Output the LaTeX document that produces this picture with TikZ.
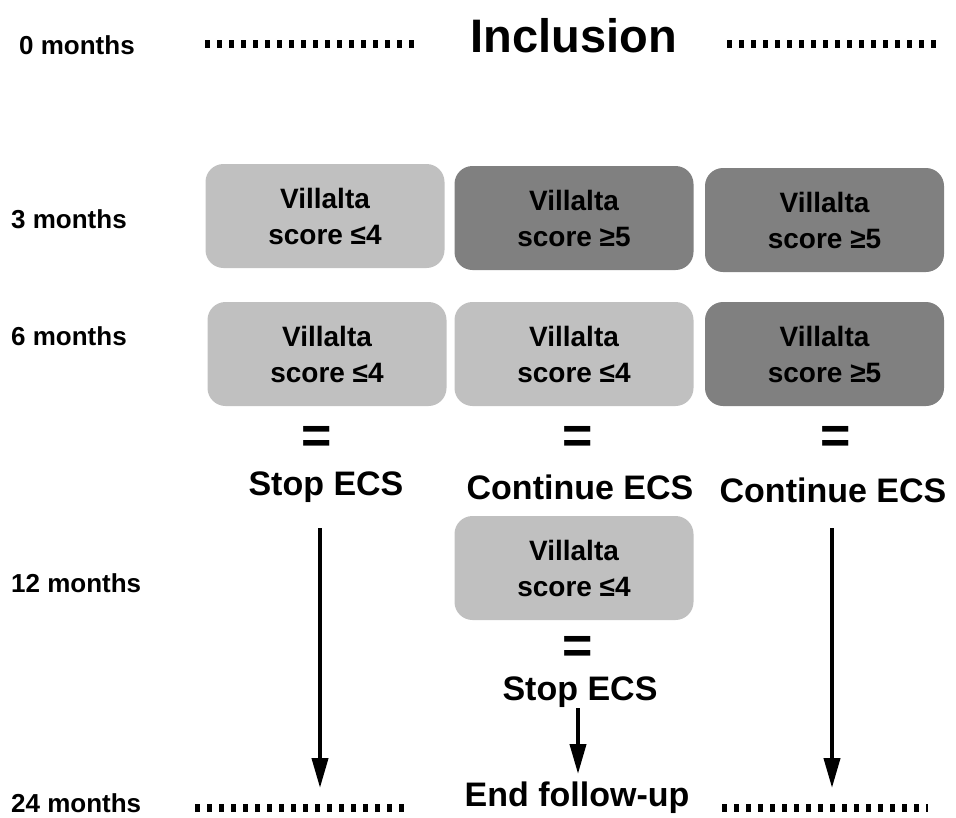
\documentclass[tikz,border=0pt]{standalone}
\usepackage{fontspec}
\setmainfont{Liberation Sans}
\usetikzlibrary{arrows.meta}
\definecolor{lightbox}{HTML}{C0C0C0}
\definecolor{darkbox}{HTML}{808080}
\begin{document}
\begin{tikzpicture}[x=1pt,y=-1pt,
  month/.style={anchor=west,inner sep=0pt,font=\bfseries\fontsize{26}{28}\selectfont},
  vbox/.style={rounded corners=18pt,minimum width=239pt,minimum height=104pt,align=center,inner sep=0pt,font=\bfseries\fontsize{28}{36}\selectfont},
  lightv/.style={vbox,fill=lightbox},
  darkv/.style={vbox,fill=darkbox},
  action/.style={inner sep=0pt,font=\bfseries\fontsize{34}{38}\selectfont},
  eqsign/.style={inner sep=0pt,font=\bfseries\fontsize{52}{56}\selectfont},
  dotline/.style={line width=8pt,dash pattern=on 5pt off 7pt},
  arr/.style={line width=4pt,-{Triangle[width=16pt,length=30pt]}}
]
\useasboundingbox (0,0) rectangle (956,817);

% month labels
\node[month] (m0) at (19,45) {0 months};
\node[month] (m3) at (11,219) {3 months};
\node[month] (m6) at (11,336) {6 months};
\node[month] (m12) at (11,583) {12 months};
\node[month] (m24) at (11,803) {24 months};

% inclusion
\node[inner sep=0pt,font=\bfseries\fontsize{47}{50}\selectfont] (incl) at (574,36) {Inclusion};
\coordinate (dtl1) at (205,44); \coordinate (dtl2) at (417,44);
\coordinate (dtr1) at (727,44); \coordinate (dtr2) at (941,44);
\draw[dotline] (dtl1) -- (dtl2);
\draw[dotline] (dtr1) -- (dtr2);

% 3 months
\node[lightv] (b31) at (325,216) {Villalta\\score ≤4};
\node[darkv] (b32) at (574,218) {Villalta\\score ≥5};
\node[darkv] (b33) at (824.5,220) {Villalta\\score ≥5};

% 6 months
\node[lightv] (b61) at (327,354) {Villalta\\score ≤4};
\node[lightv] (b62) at (574,354) {Villalta\\score ≤4};
\node[darkv] (b63) at (824.5,354) {Villalta\\score ≥5};

% equals
\node[eqsign] (e1) at (317,440) {=};
\node[eqsign] (e2) at (578,440) {=};
\node[eqsign] (e3) at (836,440) {=};

% actions
\node[action] (s1) at (326,487) {Stop ECS};
\node[action] (c2) at (580,487) {Continue ECS};
\node[action] (c3) at (833,490) {Continue ECS};

% 12 months
\node[lightv] (b12) at (574,568) {Villalta\\score ≤4};
\node[eqsign] (e4) at (578,650) {=};
\node[action] (s2) at (580,692) {Stop ECS};

% 24 months
\node[action] (end) at (577,798) {End follow-up};
\coordinate (dbl1) at (195,808); \coordinate (dbl2) at (407,808);
\coordinate (dbr1) at (722,808); \coordinate (dbr2) at (928,808);
\draw[dotline] (dbl1) -- (dbl2);
\draw[dotline] (dbr1) -- (dbr2);

% arrows
\coordinate (a1s) at (320,528); \coordinate (a1e) at (320,788);
\coordinate (a2s) at (578,708); \coordinate (a2e) at (578,774);
\coordinate (a3s) at (832,528); \coordinate (a3e) at (832,788);
\draw[arr] (a1s) -- (a1e);
\draw[arr] (a2s) -- (a2e);
\draw[arr] (a3s) -- (a3e);
\end{tikzpicture}
\end{document}
